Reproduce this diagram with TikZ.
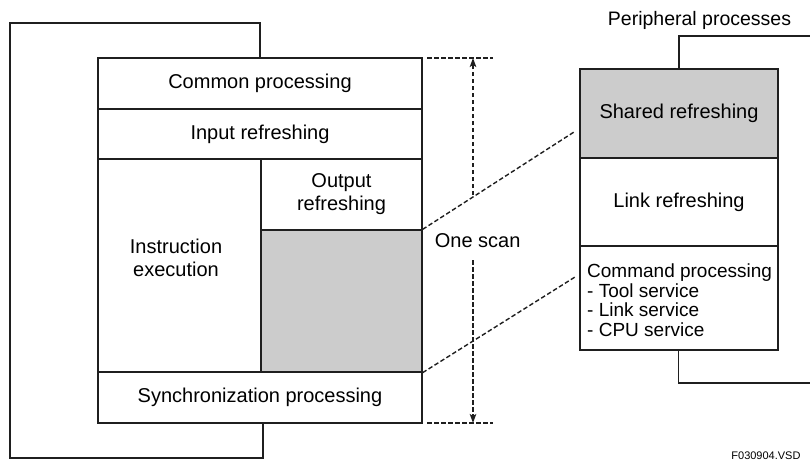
\documentclass[tikz,border=0pt]{standalone}
\usepackage{fontspec}
\setmainfont{Liberation Sans}
\usetikzlibrary{arrows.meta}

\definecolor{shade}{gray}{0.8}
\definecolor{ink}{gray}{0.12}

\tikzset{
  cell/.style={draw=ink, line width=1.3pt, inner sep=0pt, anchor=center,
               font=\fontsize{20}{23}\selectfont, align=center},
  filled/.style={cell, fill=shade},
  loopline/.style={draw=ink, line width=1.3pt},
  dashline/.style={draw=ink, line width=1.4pt, dash pattern=on 4.5pt off 2.5pt},
  scanarrow/.style={dashline, -{Stealth[length=9pt,width=6.5pt,inset=2pt]}},
  txt/.style={inner sep=0pt, font=\fontsize{20}{23}\selectfont, align=center},
}

\begin{document}
\begin{tikzpicture}[x=1pt, y=-1pt]
  \useasboundingbox (0,0) rectangle (810,461);

  % scan cycle of the CPU
  \node[cell, minimum width=324pt, minimum height=51pt] (common) at (260,83.5) {Common processing};
  \node[cell, minimum width=324pt, minimum height=50pt] (input) at (260,134) {Input refreshing};
  \node[cell, minimum width=163pt, minimum height=213pt] (instr) at (179.5,265.5) {};
  \node[txt] (instrtxt) at (176,257.5) {Instruction\\execution};
  \node[cell, minimum width=161pt, minimum height=71pt] (outref) at (341.5,194.5) {Output\\refreshing};
  \node[filled, minimum width=161pt, minimum height=142pt] (idle) at (341.5,301) {};
  \node[cell, minimum width=324pt, minimum height=51pt] (sync) at (260,397.5) {Synchronization processing};

  % return loop around the scan
  \coordinate (lt) at (260,23);
  \coordinate (lb) at (263,458);
  \draw[loopline] (common.north west -| lt) -- (lt) -- (10,23) -- (10,458) -- (lb) -- (lb |- sync.south);

  % peripheral processes
  \node[txt, anchor=base] (perilabel) at (699.5,25) {\fontsize{19.5}{22}\selectfont Peripheral processes};
  \node[filled, minimum width=198pt, minimum height=89pt] (shared) at (679,113.5) {Shared refreshing};
  \node[cell, minimum width=198pt, minimum height=88pt] (link) at (679,202) {Link refreshing};
  \node[cell, minimum width=198pt, minimum height=104pt] (cmd) at (679,298) {};
  \node[inner sep=0pt, anchor=north west, align=left,
        font=\fontsize{19}{19.6}\selectfont] (cmdtxt) at (587,263.7)
        {Command processing\\- Tool service\\- Link service\\- CPU service};

  \coordinate (rt) at (679,36);
  \coordinate (rb) at (678.5,383);
  \draw[loopline] (shared.north -| rt) -- (rt) -- (810,36);
  \draw[loopline] (cmd.south -| rb) -- (rb) -- (810,383);

  % expansion of the idle slot
  \coordinate (e1) at (574,132);
  \coordinate (e2) at (575,277);
  \draw[dashline] (idle.north east) -- (e1);
  \draw[dashline] (idle.south east) -- (e2);

  % one scan span
  \coordinate (st) at (473,58);
  \coordinate (sbm) at (473,423);
  \draw[dashline] (427,58) -- (493,58);
  \draw[dashline] (427,423) -- (493,423);
  \node[txt, anchor=base] (scan) at (477.7,247.3) {One scan};
  \coordinate (sa) at (473,195);
  \coordinate (sb) at (473,260);
  \draw[scanarrow] (sa) -- (st);
  \draw[scanarrow] (sb) -- (sbm);

  \node[inner sep=0pt, anchor=base east, font=\fontsize{11}{13}\selectfont] (fig) at (800.7,459.3) {F030904.VSD};
\end{tikzpicture}
\end{document}
